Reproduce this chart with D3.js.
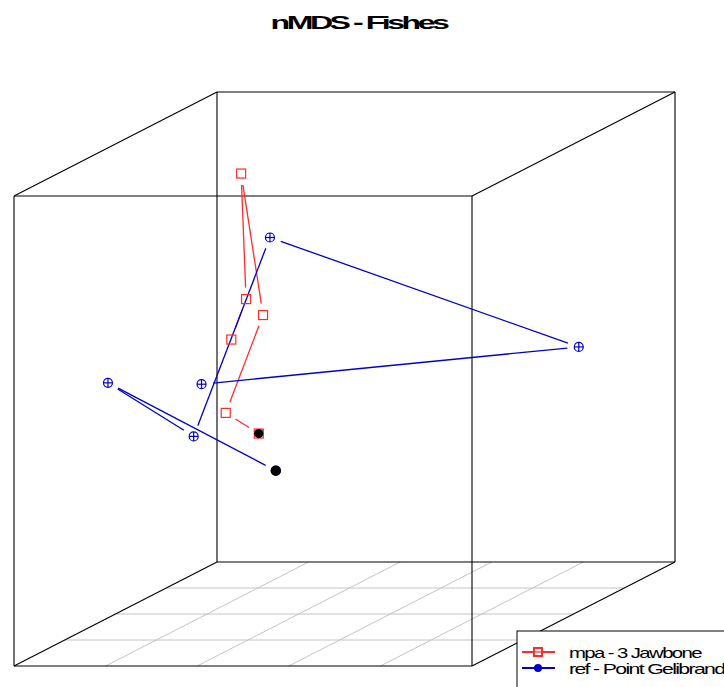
<!DOCTYPE html>
<html>
<head>
<meta charset="utf-8">
<script src="https://cdn.jsdelivr.net/npm/d3@7"></script>
<style>
  html, body { margin: 0; padding: 0; background: #fff; }
  svg { display: block; }
  text { font-family: "Liberation Sans", Arial, sans-serif; }
</style>
</head>
<body>
<script>
// nMDS ordination scores (three dimensions) for each site
const groups = ["mpa - 3 Jawbone", "ref - Point Gelibrand"];
const mpaNMDS1 = [-0.33, -0.43, -0.40, -0.54, -0.43, -0.45];
const mpaNMDS2 = [-0.10, -0.20,  0.10,  0.20,  0.00, -0.10];
const mpaNMDS3 = [-0.21, -0.10,  0.25,  0.83,  0.34,  0.19];
const refNMDS1 = [-0.30, -0.90, -0.57, -0.37,  0.89, -0.58];
const refNMDS2 = [ 0.00, -0.30, -0.20,  0.10,  0.30, -0.10];
const refNMDS3 = [-0.39,  0.05, -0.20,  0.58,  0.07,  0.00];
// floor grid positions
const gridX = [-1, -0.6, -0.2, 0.2, 0.6, 1];
const gridY = [-1, -0.5, 0, 0.5, 1];

const W = 724, H = 687;
const svg = d3.select("body").append("svg").attr("width", W).attr("height", H);

// oblique projection: x horizontal, z vertical, y recedes up-right
const xs = d3.scaleLinear().domain([-1, 1]).range([14, 472]);
const zs = d3.scaleLinear().domain([-1, 1]).range([666, 196]);
const ds = d3.scaleLinear().domain([-1, 1]).range([0, 1]);
const depthDX = 203, depthDY = -104;
const proj = (x, y, z) => [xs(x) + ds(y) * depthDX, zs(z) + ds(y) * depthDY];

const series = [
  { name: groups[0], color: "#ff2b2b", shape: "square",
    pts: mpaNMDS1.map((v, i) => proj(v, mpaNMDS2[i], mpaNMDS3[i])) },
  { name: groups[1], color: "#0000cc", shape: "cross",
    pts: refNMDS1.map((v, i) => proj(v, refNMDS2[i], refNMDS3[i])) }
];

// floor grid
const grid = svg.append("g").attr("stroke", "#c4c4c4").attr("stroke-width", 1).attr("fill", "none");
gridX.slice(1, -1).forEach(gx => {
  const a = proj(gx, -1, -1), b = proj(gx, 1, -1);
  grid.append("line").attr("x1", a[0]).attr("y1", a[1]).attr("x2", b[0]).attr("y2", b[1]);
});
gridY.slice(1, -1).forEach(gy => {
  const a = proj(-1, gy, -1), b = proj(1, gy, -1);
  grid.append("line").attr("x1", a[0]).attr("y1", a[1]).attr("x2", b[0]).attr("y2", b[1]);
});

// bounding box
const corners = [];
[-1, 1].forEach(x => [-1, 1].forEach(y => [-1, 1].forEach(z => corners.push({ x, y, z }))));
const box = svg.append("g").attr("stroke", "#000").attr("stroke-width", 1.1).attr("fill", "none");
for (let i = 0; i < corners.length; i++) {
  for (let j = i + 1; j < corners.length; j++) {
    const c1 = corners[i], c2 = corners[j];
    const diff = (c1.x !== c2.x) + (c1.y !== c2.y) + (c1.z !== c2.z);
    if (diff === 1) {
      const a = proj(c1.x, c1.y, c1.z), b = proj(c2.x, c2.y, c2.z);
      box.append("line").attr("x1", a[0]).attr("y1", a[1]).attr("x2", b[0]).attr("y2", b[1]);
    }
  }
}

// connecting lines, trimmed short of each point
const gap = 11.5;
series.forEach(s => {
  const g = svg.append("g").attr("stroke", s.color).attr("stroke-width", 1.3);
  for (let i = 0; i < s.pts.length - 1; i++) {
    const [x1, y1] = s.pts[i], [x2, y2] = s.pts[i + 1];
    const len = Math.hypot(x2 - x1, y2 - y1);
    if (len <= 2 * gap) continue;
    const ux = (x2 - x1) / len, uy = (y2 - y1) / len;
    g.append("line")
      .attr("x1", x1 + ux * gap).attr("y1", y1 + uy * gap)
      .attr("x2", x2 - ux * gap).attr("y2", y2 - uy * gap);
  }
});

// point markers
series.forEach(s => {
  const g = svg.append("g").attr("stroke", s.color).attr("fill", "none").attr("stroke-width", 1.2);
  s.pts.forEach(([x, y]) => {
    if (s.shape === "square") {
      g.append("rect").attr("x", x - 4.5).attr("y", y - 4.5).attr("width", 9).attr("height", 9);
    } else {
      g.append("circle").attr("cx", x).attr("cy", y).attr("r", 4.5);
      g.append("line").attr("x1", x - 4.5).attr("x2", x + 4.5).attr("y1", y).attr("y2", y);
      g.append("line").attr("x1", x).attr("x2", x).attr("y1", y - 4.5).attr("y2", y + 4.5);
    }
  });
  // first sample highlighted
  const [fx, fy] = s.pts[0];
  svg.append("circle").attr("cx", fx).attr("cy", fy).attr("r", s.shape === "square" ? 4.6 : 5.2).attr("fill", "#000");
});

// wide, tightly spaced text: set letter spacing, then scale horizontally to a target width
function wideText(parent, x, y, str, size, weight, tracking, width, anchor) {
  const g = parent.append("g");
  const t = g.append("text").attr("x", 0).attr("y", 0)
    .attr("font-size", size).attr("font-weight", weight)
    .attr("letter-spacing", tracking).attr("fill", "#000").text(str);
  const w = t.node().getBBox().width;
  const k = width / w;
  const x0 = anchor === "middle" ? x - width / 2 : x;
  g.attr("transform", `translate(${x0},${y}) scale(${k},1)`);
  return t;
}

// title
wideText(svg, 360, 29, "nMDS - Fishes", 18.5, "bold", -2, 179, "middle");

// legend
const lg = svg.append("g");
lg.append("rect").attr("x", 517).attr("y", 631).attr("width", 300).attr("height", 100)
  .attr("fill", "#fff").attr("stroke", "#000").attr("stroke-width", 1);
const legendWidths = [134, 156];
series.forEach((s, i) => {
  const y = 652 + i * 16;
  lg.append("line").attr("x1", 522).attr("x2", 555).attr("y1", y).attr("y2", y)
    .attr("stroke", s.color).attr("stroke-width", 2.2);
  if (s.shape === "square") {
    lg.append("rect").attr("x", 534).attr("y", y - 4).attr("width", 8).attr("height", 8)
      .attr("fill", "#fff").attr("fill-opacity", 0.4).attr("stroke", s.color).attr("stroke-width", 2);
  } else {
    lg.append("circle").attr("cx", 538).attr("cy", y).attr("r", 4).attr("fill", s.color);
  }
  wideText(lg, 569, y + 6, s.name, 14, "normal", -1.1, legendWidths[i], "start");
});
</script>
</body>
</html>
